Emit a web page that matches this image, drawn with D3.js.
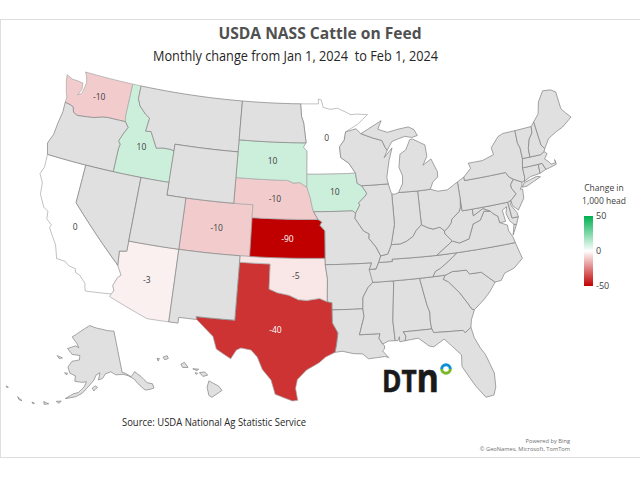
<!DOCTYPE html>
<html>
<head>
<meta charset="utf-8">
<script src="https://d3js.org/d3.v7.min.js"></script>
<style>
  html, body { margin: 0; padding: 0; background: #fff; }
  svg { display: block; }
  text { font-family: "Open Sans", "Noto Sans", sans-serif; }
</style>
</head>
<body>
<div id="container"></div>
<script>
  // svg dimensions
  var width = 640
  var height = 480

  // chart values
  var titleText = "USDA NASS Cattle on Feed"
  var subtitleText = "Monthly change from Jan 1, 2024  to Feb 1, 2024"
  var sourceText = "Source: USDA National Ag Statistic Service"
  var creditLines = ["Powered by Bing", "\u00a9 GeoNames, Microsoft, TomTom"]
  var legendTitle = ["Change in", "1,000 head"]
  var legendTicks = [50, 0, -50]
  var reportedStates = ["WA", "ID", "CA", "AZ", "CO", "SD", "NE", "KS", "OK", "TX", "MN", "IA"]
  var reportedChange = [-10, 10, 0, -3, -10, 10, -10, -90, -5, -40, 0, 10]

  // state outlines, "west longitude latitude" pairs, one string per ring
  var outlines = {
    WA: ["117.04 49,122.76 49,122.5 48.7,122.3 48.2,122.4 47.6,122.5 47.3,122.9 47.1,122.6 47.6,122.7 48.1,123.2 48.15,124 48.17,124.72 48.38,124.6 47.9,124.2 47,124 46.7,124 46.27,123.4 46.2,123 46.1,122.8 45.7,122.3 45.55,121.2 45.65,120.5 45.72,119.6 45.92,118.98 46,116.92 46,117.04 46.42"],
    OR: ["124 46.27,123.95 45.5,124.1 44.6,124.2 43.6,124.55 42.84,124.2 42,120 42,117.03 42,117.03 43.8,116.95 44.2,117.2 44.4,116.9 45,116.5 45.6,116.92 46,118.98 46,119.6 45.92,120.5 45.72,121.2 45.65,122.3 45.55,122.8 45.7,123 46.1,123.4 46.2"],
    ID: ["117.04 49,116.05 49,116.05 48,115.7 47.45,114.9 46.9,114.35 46.65,114.5 45.6,113.9 45.65,113.45 45.05,113 44.45,112.3 44.55,111.5 44.55,111.05 44.47,111.05 42,114.04 42,117.03 42,117.03 43.8,116.95 44.2,117.2 44.4,116.9 45,116.5 45.6,116.92 46,117.04 46.42"],
    MT: ["116.05 49,104.05 49,104.05 45,111.05 45,111.05 44.47,111.5 44.55,112.3 44.55,113 44.45,113.45 45.05,113.9 45.65,114.5 45.6,114.35 46.65,114.9 46.9,115.7 47.45,116.05 48"],
    WY: ["111.05 45,104.05 45,104.05 43,104.05 41,109.05 41,111.05 41"],
    CA: ["124.2 42,120 42,120 39,114.63 35,114.14 34.3,114.43 34.05,114.72 33.4,114.52 33,114.72 32.72,117.12 32.53,117.25 32.85,117.3 33.1,118 33.65,118.4 33.75,118.5 34.03,119.2 34.15,119.6 34.4,120.47 34.45,120.65 34.9,120.9 35.45,121.9 36.6,121.8 36.85,122.4 37.2,122.5 37.8,123 38,123.7 38.9,123.85 39.8,124.35 40.4,124.1 41"],
    NV: ["120 42,114.04 42,114.04 37,114.04 36.2,114.75 36.1,114.63 35,120 39"],
    UT: ["114.04 42,111.05 42,111.05 41,109.05 41,109.05 37,114.04 37"],
    AZ: ["114.04 37,109.05 37,109.05 31.33,111.07 31.33,114.81 32.5,114.72 32.72,114.52 33,114.72 33.4,114.43 34.05,114.14 34.3,114.63 35,114.75 36.1,114.04 36.2"],
    CO: ["109.05 41,104.05 41,102.05 41,102.05 40,102.05 37,103 37,109.05 37"],
    NM: ["109.05 37,103 37,103 36.5,103.04 32,106.62 32,106.53 31.78,108.2 31.78,108.2 31.33,109.05 31.33"],
    TX: ["103 36.5,100 36.5,100 34.56,99.2 34.3,98.1 34.13,97.2 33.8,96.4 33.75,95.2 33.9,94.48 33.64,94.04 33.55,94.04 33,94.04 31.99,93.55 31.2,93.7 30.3,93.85 29.7,94.7 29.35,95.3 28.9,96.4 28.35,97.2 27.6,97.35 26.9,97.15 25.96,97.6 25.9,99.1 26.4,99.5 27.5,100.3 28.3,100.8 29.25,101.4 29.77,102.3 29.88,102.7 29.7,103.15 28.98,104.5 29.65,104.9 30.6,106.53 31.78,106.62 32,103.04 32"],
    OK: ["103 37,102.05 37,94.62 37,94.62 36.5,94.43 35.4,94.48 33.64,95.2 33.9,96.4 33.75,97.2 33.8,98.1 34.13,99.2 34.3,100 34.56,100 36.5,103 36.5"],
    KS: ["102.05 40,95.3 40,94.9 39.8,95.1 39.55,94.61 39.11,94.62 37,102.05 37"],
    NE: ["104.05 43,98.5 43,97.9 42.8,97.2 42.85,96.45 42.49,96.1 41.7,95.9 41,95.75 40.6,95.3 40,102.05 40,102.05 41,104.05 41"],
    SD: ["104.05 45.94,96.56 45.94,96.85 45.6,96.45 45.3,96.45 43.5,96.45 42.49,97.2 42.85,97.9 42.8,98.5 43,104.05 43,104.05 45"],
    ND: ["104.05 49,97.23 49,97.1 48,96.85 47.5,96.56 45.94,104.05 45.94,104.05 45.94"],
    MN: ["97.23 49,95.15 49,95.15 49.38,94.8 49.3,94.6 48.72,93.8 48.55,92.95 48.62,92 48.3,91.4 48.07,90.75 48.1,89.5 48,90.7 47.3,92.1 46.75,92.3 46.1,92.85 45.6,92.75 44.75,91.9 44.3,91.22 43.5,96.45 43.5,96.45 45.3,96.85 45.6,96.56 45.94,96.85 47.5,97.1 48"],
    IA: ["96.45 43.5,91.22 43.5,91.1 42.7,90.64 42.5,90.15 41.9,90.3 41.7,91.05 41.2,90.95 41,91.42 40.4,91.72 40.6,95.75 40.6,95.9 41,96.1 41.7,96.45 42.49"],
    MO: ["95.75 40.6,91.72 40.6,91.42 40.4,91.5 40,90.7 39,90.15 38.75,90.2 38.4,89.55 37.7,89.15 37,89.4 36.5,89.7 36,90.37 36,90.1 36.5,94.62 36.5,94.62 37,94.61 39.11,95.1 39.55,94.9 39.8,95.3 40"],
    AR: ["94.62 36.5,90.1 36.5,90.37 36,89.7 36,90.1 35,90.6 34.6,91.1 33.9,91.17 33,94.04 33,94.04 33.55,94.48 33.64,94.43 35.4"],
    LA: ["94.04 33,91.17 33,91.1 32.4,91.6 31,89.73 31,89.85 30.65,89.55 30.18,89.4 30.05,89.4 29.8,89.6 29.65,89.1 29.1,89.45 29.2,90.1 29.15,90.9 29.1,91.4 29.5,92.2 29.55,93.2 29.77,93.85 29.7,93.7 30.3,93.55 31.2,94.04 31.99"],
    MS: ["90.1 35,88.2 35,88.1 34.9,88.47 31.9,88.4 30.37,89 30.38,89.55 30.18,89.85 30.65,89.73 31,91.6 31,91.1 32.4,91.17 33,91.1 33.9,90.6 34.6"],
    AL: ["88.2 35,85.6 35,85.18 32.87,85 32.3,85.05 31.55,85 31,87.6 31,87.4 30.65,87.5 30.3,88 30.25,88 30.65,88.15 30.35,88.4 30.37,88.47 31.9,88.1 34.9"],
    GA: ["85.6 35,84.32 35,83.11 35,83.35 34.7,82.9 34.45,82 33.5,81.4 32.6,81.1 32.1,80.88 32.03,81.3 31.3,81.45 30.72,82.05 30.36,82.2 30.57,84.86 30.7,85 31,85.05 31.55,85 32.3,85.18 32.87"],
    FL: ["87.6 31,85 31,84.86 30.7,82.2 30.57,82.05 30.36,81.45 30.72,81.3 29.9,80.9 29,80.55 28.45,80.05 26.9,80.13 25.8,80.4 25.2,81.1 25.13,81.8 26.1,82.2 26.8,82.75 27.8,82.65 28.7,83.4 29.5,84 30.1,85 29.6,85.4 29.7,86.3 30.4,87.5 30.3,87.4 30.65"],
    SC: ["83.35 34.7,83.11 35,82.4 35.2,81.05 35.15,80.8 34.82,79.67 34.8,78.55 33.86,79.2 33.2,79.9 32.65,80.88 32.03,81.1 32.1,81.4 32.6,82 33.5,82.9 34.45"],
    NC: ["84.32 35,83.11 35,82.4 35.2,81.05 35.15,80.8 34.82,79.67 34.8,78.55 33.86,77.95 33.9,77.5 34.4,76.5 34.65,75.55 35.25,75.9 36.55,81.68 36.59,82.6 36.05,83.5 35.57,84 35.4"],
    TN: ["90.1 35,88.2 35,85.6 35,84.32 35,84 35.4,83.5 35.57,82.6 36.05,81.68 36.59,83.68 36.6,88.07 36.68,88.07 36.5,89.4 36.5,89.7 36,90.37 36"],
    KY: ["89.4 36.5,88.07 36.5,88.07 36.68,83.68 36.6,81.97 37.54,82.6 38.17,82.6 38.4,83 38.73,83.7 38.65,84.2 38.8,84.82 39.1,85.4 38.72,85.8 38.27,86.5 37.95,87.1 37.8,88.03 37.8,88.45 37.1,89.15 37"],
    VA: ["83.68 36.6,81.68 36.59,75.9 36.55,76 37,76.3 37.55,76.3 38,77 38.3,77.05 38.8,77.5 39.1,77.72 39.32,78.35 39.4,78.87 38.77,79.65 38.58,80.3 37.5,81.3 37.3,81.97 37.54", "75.65 37.95,75.4 37.9,75.95 37.15"],
    WV: ["81.97 37.54,81.3 37.3,80.3 37.5,79.65 38.58,78.87 38.77,78.35 39.4,77.72 39.32,78.4 39.62,79.48 39.2,79.48 39.72,80.52 39.72,80.52 40.64,80.65 40,80.85 39.7,81.7 39.2,81.8 38.95,82.2 38.6,82.6 38.4,82.6 38.17"],
    MD: ["79.48 39.72,75.79 39.72,75.7 38.46,75.05 38.45,75.4 37.9,75.65 37.95,76 38.3,76.2 38.9,76 39.4,76.5 39.2,76.4 38.3,77 38.3,77.05 38.8,77.5 39.1,77.72 39.32,78.4 39.62,79.48 39.2"],
    DE: ["75.79 39.72,75.42 39.8,75.55 39.45,75.1 38.8,75.05 38.45,75.7 38.46"],
    PA: ["80.52 41.98,79.76 42.27,79.76 42,75.35 42,75.1 41.6,74.7 41.36,75.1 41,75.1 40.7,74.75 40.2,75.42 39.8,75.79 39.72,79.48 39.72,80.52 39.72,80.52 40.64"],
    NJ: ["74.7 41.36,73.9 41,74 40.7,74.25 40.5,74 40.45,74.1 39.75,74.9 38.95,75.4 39.4,75.42 39.8,74.75 40.2,75.1 40.7,75.1 41"],
    NY: ["79.76 42,79.76 42.27,78.9 42.85,79.05 43.27,77.5 43.27,76.2 43.55,76.3 44.1,75.3 44.85,74.7 45,73.35 45,73.4 44,73.25 43.6,73.27 42.75,73.5 42.05,73.5 41.3,73.65 41,73.9 41,74.7 41.36,75.1 41.6,75.35 42", "74 40.6,73.7 40.9,72.3 41.15,71.9 41.05,73.5 40.6"],
    CT: ["73.5 42.05,71.8 42.02,71.85 41.32,72.9 41.25,73.65 41,73.5 41.3"],
    RI: ["71.8 42.02,71.38 42.02,71.15 41.5,71.85 41.32"],
    MA: ["73.27 42.75,72.46 42.73,71.3 42.7,70.85 42.87,70.6 42.65,71 42.3,70.6 41.95,70.5 41.78,70 41.8,70 42.05,69.95 41.67,70.65 41.55,71.15 41.5,71.38 42.02,71.8 42.02,73.5 42.05"],
    VT: ["73.35 45,71.5 45,71.6 44.5,72.05 44.1,72.4 43.4,72.46 42.73,73.27 42.75,73.25 43.6,73.4 44"],
    NH: ["71.5 45,71.1 45.3,70.98 43.4,70.7 43.07,70.85 42.87,71.3 42.7,72.46 42.73,72.4 43.4,72.05 44.1,71.6 44.5"],
    ME: ["71.1 45.3,70.4 45.8,70 46.7,69.2 47.45,68.3 47.35,67.8 47.07,67.8 45.7,67.45 45.3,67 44.85,68.2 44.3,69 44.1,70 43.75,70.7 43.07,70.98 43.4"],
    OH: ["84.8 41.72,83.45 41.73,82.7 41.5,81.7 41.5,80.52 41.98,80.52 40.64,80.65 40,80.85 39.7,81.7 39.2,81.8 38.95,82.2 38.6,82.6 38.4,83 38.73,83.7 38.65,84.2 38.8,84.82 39.1"],
    IN: ["87.53 41.7,87.2 41.65,86.8 41.76,84.8 41.72,84.82 39.1,85.4 38.72,85.8 38.27,86.5 37.95,87.1 37.8,88.03 37.8,87.53 39.35"],
    IL: ["90.64 42.5,87.8 42.5,87.6 41.85,87.53 41.7,87.53 39.35,88.03 37.8,88.45 37.1,89.15 37,89.55 37.7,90.2 38.4,90.15 38.75,90.7 39,91.5 40,91.42 40.4,90.95 41,91.05 41.2,90.3 41.7,90.15 41.9"],
    WI: ["90.4 46.55,89.1 46.15,88.1 45.9,87.8 45.35,87.6 45.1,88 44.55,87.05 45.25,87.5 44.3,87.9 43,87.8 42.5,90.64 42.5,91.1 42.7,91.22 43.5,91.9 44.3,92.75 44.75,92.85 45.6,92.3 46.1,92.1 46.75,90.9 46.95"],
    MI: ["86.8 41.76,86.3 42.4,86.2 43,86.5 43.7,86.25 44.7,85.55 45,85 45.75,84.7 45.78,83.4 45.2,83.35 44.3,83.9 43.65,82.95 44.05,82.45 43,82.5 42.6,83.1 42.25,83.45 41.73,84.8 41.72", "90.4 46.55,89.1 46.15,88.1 45.9,87.8 45.35,87.6 45.1,87 45.75,86.3 45.9,85.5 46.05,84.75 45.9,84.1 46,84.4 46.5,85 46.75,86.1 46.67,87.4 46.5,88.45 46.8,88 47.45,89.6 46.85"],
    AK: ["141 69.65,141 60.3,139.5 59.9,137.5 58.9,135.5 59.8,133.5 58.4,131.8 56.6,130 56,130 55,131.5 55,133.5 55.2,135.5 57,136.5 58.2,138.5 59.2,140.5 59.8,144 60,146 60.8,148.5 60.5,150 59.5,151.8 59.2,151 60.8,152.8 60.3,153.8 59.2,156 57.8,158.5 56.2,161 55.3,164.8 54.6,162 55.9,160 56.3,157.8 57.7,157 58.8,159 58.6,162 58.7,162 59.9,164.6 60.3,166 61.6,164.5 63,161 63.5,161 64.5,165 64.5,168 65.6,164 66.5,162 66.2,163.5 67.1,166.7 68.35,163 69.6,160 70.5,156.6 71.35,152 70.8,148 70.4,145 70", "154.5 57.4,153.2 57.9,152.3 57.6,153.8 56.8", "172.3 63.5,169.5 63.3,171 63", "167 60.2,165.6 60.2,166 59.8", "168 53.6,166.2 53.9,166.8 53.3", "172.5 52.9,170.5 52.7,172 52.3", "176.5 52,175.5 51.9,176 51.7", "187.5 52.9,186.5 52.9,187 52.7", "182 51.9,180 51.5,181 51.4"],
    HI: ["155.9 20.25,155.1 19.85,154.8 19.5,155.65 18.95,155.9 19.1,156.05 19.75", "156.7 20.9,156.25 20.95,156 20.7,156.4 20.6", "157.25 21.2,156.75 21.17,156.9 21.05", "157.05 20.9,156.85 20.85,156.95 20.75", "158.25 21.55,157.95 21.7,157.65 21.3,158.1 21.3", "159.75 22.1,159.4 22.22,159.3 22,159.6 21.9", "160.25 22,160.05 22,160.15 21.8"]
  }

  // turn an outline into a feature, adding points along long straight edges so they stay on their parallel
  function toFeature(code) {
      var rings = outlines[code].map(function(s) {
          var pts = s.split(",").map(function(p) {
              var q = p.split(" ");
              return [-q[0], +q[1]];
          });
          pts.push(pts[0]);
          var dense = [];
          pts.forEach(function(p, i) {
              if (i > 0) {
                  var a = pts[i - 1];
                  var n = Math.ceil(Math.abs(p[0] - a[0]));
                  for (var k = 1; k < n; k++) {
                      dense.push([a[0] + (p[0] - a[0]) * k / n, a[1] + (p[1] - a[1]) * k / n]);
                  }
              }
              dense.push(p);
          });
          // d3 wants small polygons clockwise
          if (d3.geoArea({type: "Polygon", coordinates: [dense]}) > 2 * Math.PI) dense.reverse();
          return [dense];
      });
      return {type: "Feature", id: code, properties: {}, geometry: {type: "MultiPolygon", coordinates: rings}};
  }

  var features = Object.keys(outlines).map(toFeature);
  var lower48 = {type: "FeatureCollection", features: features.filter(function(f) { return f.id != "AK" && f.id != "HI"; })};
  var alaska = features.find(function(f) { return f.id == "AK"; });
  var hawaii = features.find(function(f) { return f.id == "HI"; });

  // the reference map is taller than true Albers, so x and y are fitted on their own
  var albers = d3.geoAlbers().rotate([96, 0]).center([0, 38]).parallels([29.5, 45.5]).scale(1).translate([0, 0]);
  var b = d3.geoPath(albers).bounds(lower48);
  var mapX = d3.scaleLinear().domain([b[0][0], b[1][0]]).range([40, 571]);
  var mapY = d3.scaleLinear().domain([b[0][1], b[1][1]]).range([72, 401]);
  var stretch = d3.geoTransform({
      point: function(x, y) { this.stream.point(mapX(x), mapY(y)); }
  });
  var mainPath = d3.geoPath({stream: function(s) { return albers.stream(stretch.stream(s)); }});
  var akPath = d3.geoPath(d3.geoConicEqualArea().rotate([154, 0]).center([0, 62]).parallels([55, 65]).fitExtent([[6, 325], [154, 405]], alaska));
  var hiPath = d3.geoPath(d3.geoMercator().rotate([157, 0]).fitExtent([[157, 355], [222, 398]], hawaii));

  function pathFor(f) {
      if (f.id == "AK") return akPath(f);
      if (f.id == "HI") return hiPath(f);
      return mainPath(f);
  }

  var color = d3.scaleLinear().domain([-50, 0, 50]).range(["#c00000", "#ffffff", "#00b050"]).clamp(true);
  var changeByState = new Map(reportedStates.map(function(s, i) { return [s, reportedChange[i]]; }));

  var svg = d3.select("#container").append("svg")
    .attr("width", width)
    .attr("height", height);

  // border
  svg.append("rect")
    .attr("x", 0.5)
    .attr("y", 19.5)
    .attr("width", width + 5)
    .attr("height", 438)
    .attr("fill", "white")
    .attr("stroke", "#dedede")
    .attr("stroke-width", 1);

  // reported states go first so the darker grey outlines sit on top
  var ordered = features.slice().sort(function(x, y) {
      return (changeByState.has(y.id) ? 1 : 0) - (changeByState.has(x.id) ? 1 : 0);
  });

  svg.append("g").selectAll("path")
    .data(ordered)
    .join("path")
    .attr("d", pathFor)
    .attr("fill", function(d) { return changeByState.has(d.id) ? color(changeByState.get(d.id)) : "#e0e0e0"; })
    .attr("stroke", function(d) { return changeByState.has(d.id) ? "#a6a6a6" : "#7f7f7f"; })
    .attr("stroke-width", 0.7)
    .attr("stroke-linejoin", "round");

  // value labels
  svg.append("g").selectAll("text")
    .data(features.filter(function(f) { return changeByState.has(f.id); }))
    .join("text")
    .attr("x", function(d) { return mainPath.centroid(d)[0]; })
    .attr("y", function(d) { return mainPath.centroid(d)[1] + 3; })
    .attr("text-anchor", "middle")
    .attr("font-size", 8.5)
    .attr("fill", function(d) { return changeByState.get(d.id) <= -40 ? "white" : "#404040"; })
    .text(function(d) { return changeByState.get(d.id); });

  // titles
  svg.append("text")
    .attr("x", 320).attr("y", 39)
    .attr("text-anchor", "middle")
    .attr("font-size", 15.6)
    .attr("font-weight", "bold")
    .attr("fill", "#505050")
    .text(titleText);

  svg.append("text")
    .attr("x", 153).attr("y", 61)
    .attr("font-size", 14)
    .attr("textLength", 285)
    .attr("lengthAdjust", "spacingAndGlyphs")
    .attr("fill", "#262626")
    .style("white-space", "pre")
    .text(subtitleText);

  svg.append("text")
    .attr("x", 122).attr("y", 426)
    .attr("font-size", 10.5)
    .attr("textLength", 184)
    .attr("lengthAdjust", "spacingAndGlyphs")
    .attr("fill", "#262626")
    .text(sourceText);

  svg.selectAll(".credit")
    .data(creditLines)
    .join("text")
    .attr("class", "credit")
    .attr("x", 570)
    .attr("y", function(d, i) { return 443 + i * 8; })
    .attr("text-anchor", "end")
    .attr("font-size", 5.7)
    .attr("fill", "#707070")
    .text(function(d) { return d; });

  // legend
  var legendY = d3.scaleLinear().domain([-50, 50]).range([286, 216]);
  var grad = svg.append("defs").append("linearGradient")
    .attr("id", "legendGrad")
    .attr("x1", 0).attr("y1", 1).attr("x2", 0).attr("y2", 0);
  grad.selectAll("stop")
    .data([-50, 0, 50])
    .join("stop")
    .attr("offset", function(d) { return (d + 50) + "%"; })
    .attr("stop-color", function(d) { return color(d); });

  svg.append("rect")
    .attr("x", 584)
    .attr("y", legendY(50))
    .attr("width", 9)
    .attr("height", legendY(-50) - legendY(50))
    .attr("fill", "url(#legendGrad)");

  svg.selectAll(".legendTitle")
    .data(legendTitle)
    .join("text")
    .attr("class", "legendTitle")
    .attr("x", 604)
    .attr("y", function(d, i) { return 191 + i * 12.5; })
    .attr("text-anchor", "middle")
    .attr("font-size", 8.5)
    .attr("fill", "#404040")
    .text(function(d) { return d; });

  var legendAxis = svg.append("g")
    .attr("transform", "translate(593,0)")
    .call(d3.axisRight(legendY).tickValues(legendTicks).tickSize(0).tickPadding(3).tickFormat(function(d) { return d; }));
  legendAxis.select(".domain").remove();
  legendAxis.selectAll("text")
    .attr("font-size", 9)
    .attr("fill", "#404040")
    .style("font-family", "'Open Sans', sans-serif");

  // DTN logo
  var logo = svg.append("text")
    .attr("x", 382).attr("y", 392)
    .attr("font-size", 30)
    .attr("font-weight", "bold")
    .attr("fill", "#1a1a1a")
    .attr("stroke", "#1a1a1a")
    .attr("stroke-width", 0.6)
    .attr("textLength", 57)
    .attr("lengthAdjust", "spacingAndGlyphs");
  logo.append("tspan").text("DT");
  logo.append("tspan").attr("font-size", 39).text("n");

  var ring = d3.arc().innerRadius(2.8).outerRadius(5.8);
  svg.append("path")
    .attr("transform", "translate(446,369)")
    .attr("d", ring({startAngle: -Math.PI / 2, endAngle: Math.PI / 2}))
    .attr("fill", "#0a8fd8");
  svg.append("path")
    .attr("transform", "translate(446,369)")
    .attr("d", ring({startAngle: Math.PI / 2, endAngle: 3 * Math.PI / 2}))
    .attr("fill", "#7ab829");
</script>
</body>
</html>
